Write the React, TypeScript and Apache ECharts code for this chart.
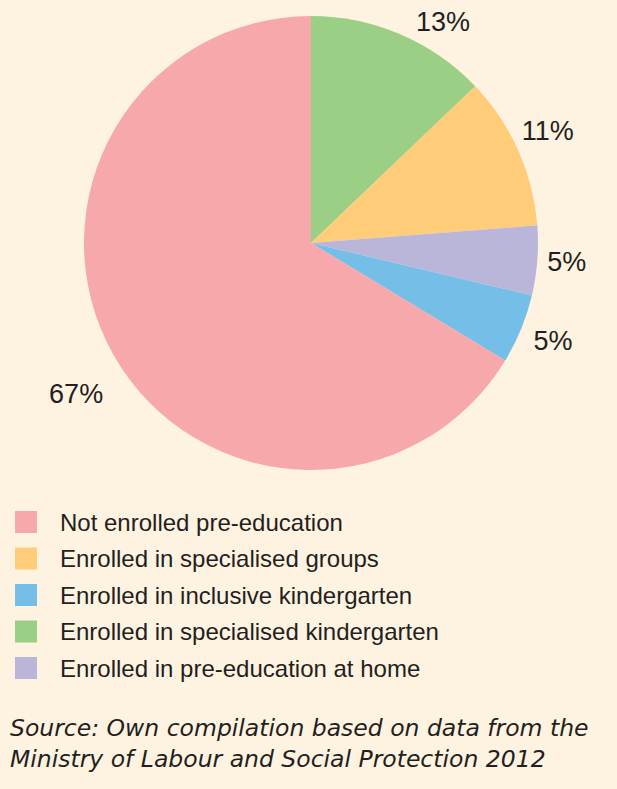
import React, { useEffect, useRef } from "react";
import * as echarts from "echarts";

const categories = [
  "Enrolled in specialised kindergarten",
  "Enrolled in specialised groups",
  "Enrolled in pre-education at home",
  "Enrolled in inclusive kindergarten",
  "Not enrolled pre-education",
];
const values = [13, 11, 5, 5, 67];
const colors = ["#9CCF86", "#FFCC7A", "#BAB6DA", "#74BEE8", "#F7A8AA"];
const labelOffsets = [[8, -6], [-8, -17], [-2, 1], [1, 9], [1, 36]];
const legendOrder = [
  "Not enrolled pre-education",
  "Enrolled in specialised groups",
  "Enrolled in inclusive kindergarten",
  "Enrolled in specialised kindergarten",
  "Enrolled in pre-education at home",
];
const sourceLines = [
  "Source: Own compilation based on data from the",
  "Ministry of Labour and Social Protection 2012",
];

const FONT = "'Liberation Sans', Arial, sans-serif";

export default function App() {
  const ref = useRef<HTMLDivElement>(null);
  useEffect(() => {
    document.body.style.margin = "0";
    const chart = echarts.init(ref.current!, null, { renderer: "svg" });
    chart.setOption({
      animation: false,
      backgroundColor: "#FEF2E0",
      legend: {
        orient: "vertical",
        left: 15,
        top: 510,
        padding: 0,
        itemWidth: 22,
        itemHeight: 22,
        itemGap: 12.5,
        icon: "rect",
        data: legendOrder,
        selectedMode: false,
        textStyle: {
          fontFamily: FONT,
          fontSize: 24,
          color: "#231F20",
          padding: [0, 0, 0, 18],
        },
      },
      graphic: [
        {
          type: "text",
          left: 10,
          top: 712,
          style: {
            text: sourceLines.join("\n"),
            fontFamily: "'DejaVu Sans', sans-serif",
            fontStyle: "italic",
            fontSize: 23.5,
            lineHeight: 31,
            fill: "#231F20",
          },
        },
      ],
      series: [
        {
          type: "pie",
          center: [311, 243],
          radius: 227,
          startAngle: 90,
          clockwise: true,
          avoidLabelOverlap: false,
          data: categories.map((name, i) => ({
            name,
            value: values[i],
            itemStyle: { color: colors[i] },
            label: { offset: labelOffsets[i] },
          })),
          label: {
            show: true,
            position: "outside",
            formatter: (p: any) => p.value + "%",
            fontFamily: FONT,
            fontSize: 27,
            color: "#231F20",
          },
          labelLine: { show: false, length: 7, length2: 0 },
          emphasis: { disabled: true },
        },
      ],
    });
    return () => chart.dispose();
  }, []);
  return (
    <div
      ref={ref}
      style={{ position: "absolute", left: 0, top: 0, width: 617, height: 789 }}
    />
  );
}
